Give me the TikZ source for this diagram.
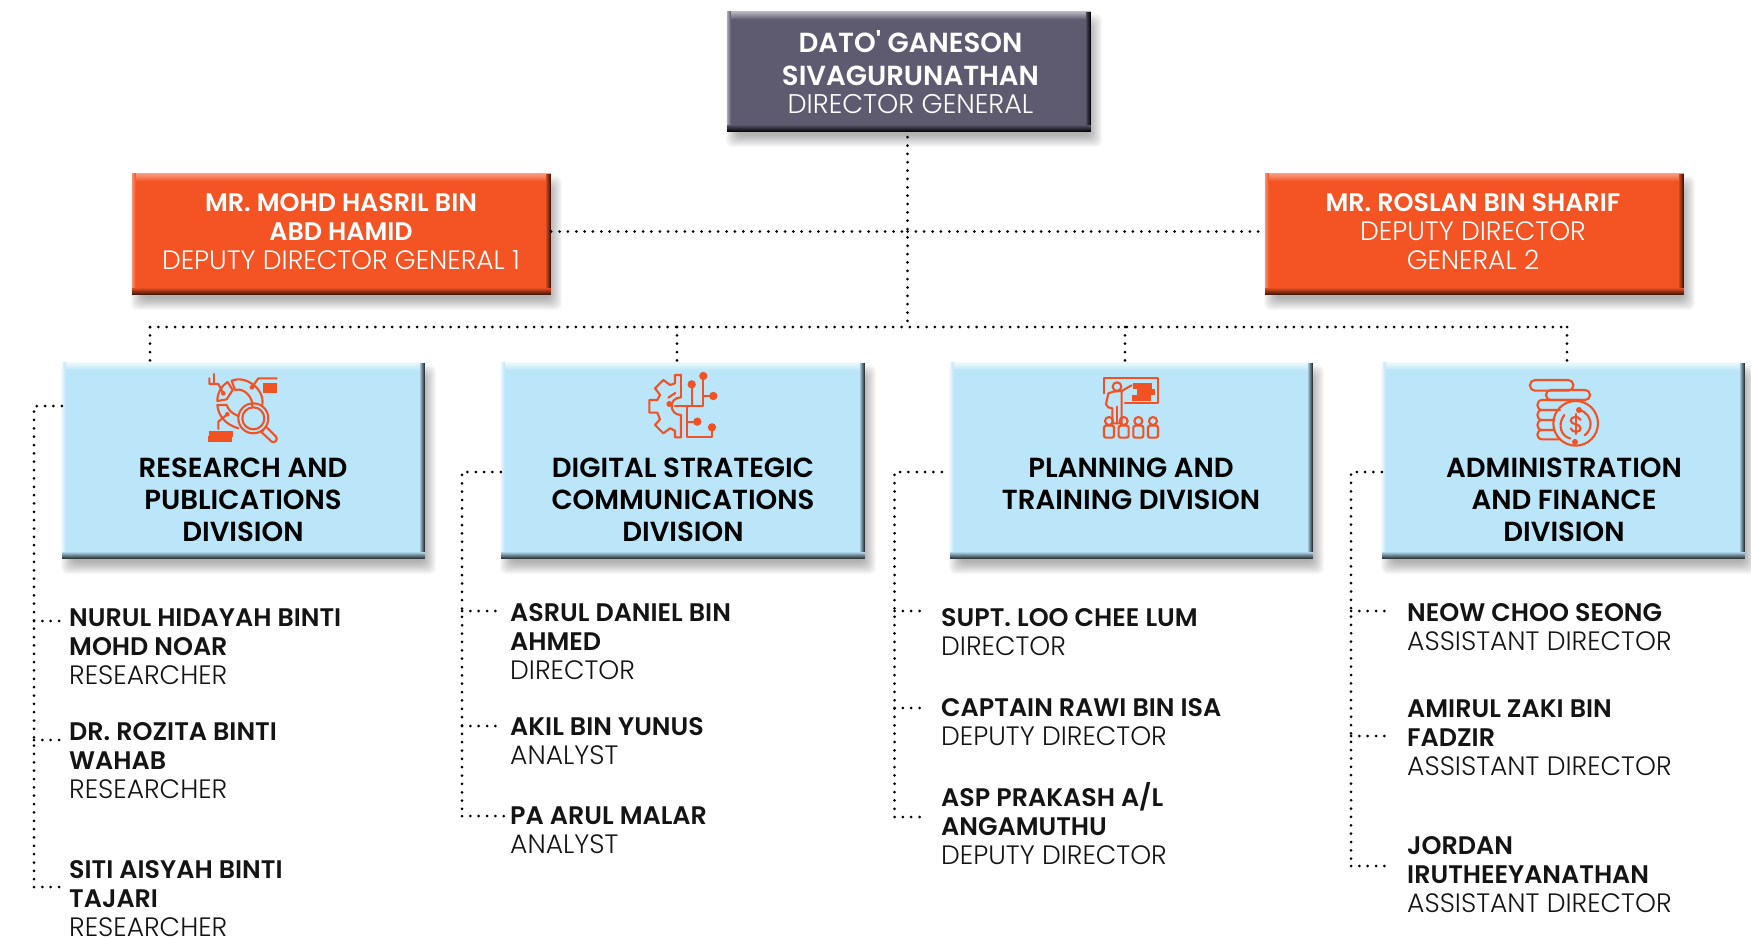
\documentclass[tikz,border=0pt]{standalone}
\usepackage{fontspec}
\setmainfont{Poppins}
\newfontfamily\namef{Poppins SemiBold}
\newfontfamily\rolef{Poppins Light}
\definecolor{ic}{HTML}{F15123}
\definecolor{dgfill}{HTML}{5E5B70}
\definecolor{orfill}{HTML}{F45323}
\definecolor{blfill}{HTML}{BBE5F9}
\newcommand\nm{\namef\fontsize{25.4}{29}\selectfont}
\newcommand\rl{\rolef\fontsize{26.6}{29}\selectfont}
\newcommand\dv{\namef\fontsize{27.6}{32}\selectfont}
\newcommand\dgn{\namef\fontsize{27.6}{32}\selectfont}
\newcommand\dgr{\rolef\fontsize{27}{30}\selectfont}
\tikzset{
 dots/.style={line width=3pt,line cap=round,dash pattern=on 0pt off 8.35pt,black},
 bevel/.style n args={3}{draw=none,fill=#1,inner sep=0pt,path picture={
   \foreach \i in {0,...,8}{\pgfmathtruncatemacro\pc{100-\i*12}
     \fill[#2!\pc!#1] ([yshift={-\i*1pt}]path picture bounding box.north west) rectangle ([yshift=-9pt]path picture bounding box.north east);}
   \foreach \i in {0,...,3}{\pgfmathtruncatemacro\pc{80-\i*22}
     \fill[#2!\pc!#1] ([xshift={\i*1pt}]path picture bounding box.north west) rectangle ([xshift=4pt]path picture bounding box.south west);}
   \foreach \i in {0,...,4}{\pgfmathtruncatemacro\pc{100-\i*20}
     \fill[#3!\pc!#1] ([xshift={-\i*1pt},yshift=-1pt]path picture bounding box.north east) rectangle ([xshift=-5pt]path picture bounding box.south east);}
   \foreach \i in {0,...,6}{\pgfmathtruncatemacro\pc{100-\i*15}
     \fill[#3!\pc!#1] ([yshift={\i*1pt}]path picture bounding box.south west) rectangle ([yshift=7pt]path picture bounding box.south east);}
 }},
 dgbox/.style={bevel={dgfill}{dgfill!40!white}{black!90!dgfill}},
 orbox/.style={bevel={orfill}{orfill!55!white}{black!70!orfill}},
 blbox/.style={bevel={blfill}{white!80!blfill}{black!75!blfill}},
 headtext/.style={align=center,text=white,inner sep=0pt,font=\fontsize{25}{29}\selectfont},
 dghead/.style={align=center,text=white,inner sep=0pt,font=\fontsize{25}{31}\selectfont},
 person/.style={anchor=north west,inner sep=0pt,align=left,text=black!92,font=\fontsize{25}{29}\selectfont},
 divtext/.style={anchor=north,inner sep=0pt,align=center,text=black,font=\fontsize{25}{32}\selectfont},
 lic/.style={draw=ic,line width=2.1pt,line join=round,line cap=round},
 sic/.style={fill=ic},
 icon/.style={x=0.3333pt,y=-0.3333pt},
}
\newcommand\bbox[6]{%
 \foreach \k in {-6,...,6}{\fill[black,opacity=.028,rounded corners=6pt] ({#3+5-\k},{#4+9-\k}) rectangle ({#5+5+\k},{#6+9+\k});}
 \node[#1,minimum width={(#5-#3)*1pt},minimum height={(#6-#4)*1pt}] (#2) at ({(#3+#5)/2},{(#4+#6)/2}) {};}
\begin{document}
\begin{tikzpicture}[x=1pt,y=-1pt]
\useasboundingbox (0,0) rectangle (1751,939);
% boxes
\bbox{dgbox}{dg}{727}{11}{1091}{132}
\node[dghead] (dgt) at (910.5,72) {\dgn DATO' GANESON\\[2pt]\dgn SIVAGURUNATHAN\\[-3pt]\dgr DIRECTOR GENERAL};
\bbox{orbox}{dl}{132}{173}{551}{295}
\node[headtext] (dlt) at (341,231.5) {\nm MR. MOHD HASRIL BIN\\\nm ABD HAMID\\\rl DEPUTY DIRECTOR GENERAL 1};
\bbox{orbox}{dr}{1265}{173}{1684}{295}
\node[headtext] (drt) at (1473,231.5) {\nm MR. ROSLAN BIN SHARIF\\\rl DEPUTY DIRECTOR\\\rl GENERAL 2};
\bbox{blbox}{d1}{62}{362}{425}{559}
\bbox{blbox}{d2}{501}{362}{865}{559}
\bbox{blbox}{d3}{950}{362}{1313}{559}
\bbox{blbox}{d4}{1382}{362}{1745}{559}
\node[divtext] (t1) at (243,458) {\dv RESEARCH AND\\\dv PUBLICATIONS\\\dv DIVISION};
\node[divtext] (t2) at (683,458) {\dv DIGITAL STRATEGIC\\\dv COMMUNICATIONS\\\dv DIVISION};
\node[divtext] (t3) at (1131,458) {\dv PLANNING AND\\\dv TRAINING DIVISION};
\node[divtext] (t4) at (1564,458) {\dv ADMINISTRATION\\\dv AND FINANCE\\\dv DIVISION};
% people
\node[person] (p11) at (69,609) {\nm NURUL HIDAYAH BINTI\\\nm MOHD NOAR\\\rl RESEARCHER};
\node[person] (p12) at (69,722.5) {\nm DR. ROZITA BINTI\\\nm WAHAB\\\rl RESEARCHER};
\node[person] (p13) at (69,860) {\nm SITI AISYAH BINTI\\\nm TAJARI\\\rl RESEARCHER};
\node[person] (p21) at (510,603) {\nm ASRUL DANIEL BIN\\\nm AHMED\\\rl DIRECTOR};
\node[person] (p22) at (510,717) {\nm AKIL BIN YUNUS\\\rl ANALYST};
\node[person] (p23) at (510,807) {\nm PA ARUL MALAR\\\rl ANALYST};
\node[person] (p31) at (941,608) {\nm SUPT. LOO CHEE LUM\\\rl DIRECTOR};
\node[person] (p32) at (941,698) {\nm CAPTAIN RAWI BIN ISA\\\rl DEPUTY DIRECTOR};
\node[person] (p33) at (941,782.5) {\nm ASP PRAKASH A/L\\\nm ANGAMUTHU\\\rl DEPUTY DIRECTOR};
\node[person] (p41) at (1407,603) {\nm NEOW CHOO SEONG\\\rl ASSISTANT DIRECTOR};
\node[person] (p42) at (1407,700) {\nm AMIRUL ZAKI BIN\\\nm FADZIR\\\rl ASSISTANT DIRECTOR};
\node[person] (p43) at (1407,836) {\nm JORDAN\\\nm IRUTHEEYANATHAN\\\rl ASSISTANT DIRECTOR};
% junctions
\coordinate (jm) at (907.5,231.5);
\coordinate (jb) at (907.5,327);
\coordinate (x1) at (150,327); \coordinate (x2) at (677,327);
\coordinate (x3) at (1125,327); \coordinate (x4) at (1567,327);
\draw[dots] (dg.south -| jm) ++(0,5) -- (jb);
\draw[dots] (dl.east |- jm) -- (jm);
\draw[dots] (jm) -- (dr.west |- jm);
\draw[dots] (x1) -- (x4);
\draw[dots] (x1) -- (d1.north -| x1);
\draw[dots] (x2) -- (d2.north -| x2);
\draw[dots] (x3) -- (d3.north -| x3);
\draw[dots] (x4) -- (d4.north -| x4);
% brackets
\coordinate (a1) at (34,406); \coordinate (b11) at (34,621); \coordinate (b12) at (34,740); \coordinate (b13) at (34,887);
\draw[dots] (d1.west |- a1) -- (a1) -- (b13);
\draw[dots,shorten >=3pt] (b11) -- (p11.west |- b11);
\draw[dots,shorten >=3pt] (b12) -- (p12.west |- b12);
\draw[dots,shorten >=3pt] (b13) -- (p13.west |- b13);
\coordinate (a2) at (462,472); \coordinate (b21) at (462,611); \coordinate (b22) at (462,726); \coordinate (b23) at (462,816);
\draw[dots] (d2.west |- a2) -- (a2) -- (b23);
\draw[dots,shorten >=14pt] (b21) -- (p21.west |- b21);
\draw[dots,shorten >=14pt] (b22) -- (p22.west |- b22);
\draw[dots,shorten >=4pt] (b23) -- (p23.west |- b23);
\coordinate (a3) at (894.5,472); \coordinate (b31) at (894.5,611); \coordinate (b32) at (894.5,708); \coordinate (b33) at (894.5,817);
\draw[dots] (d3.west |- a3) ++(-8,0) -- (a3) -- (b33);
\draw[dots,shorten >=14pt] (b31) -- (p31.west |- b31);
\draw[dots,shorten >=14pt] (b32) -- (p32.west |- b32);
\draw[dots,shorten >=14pt] (b33) -- (p33.west |- b33);
\coordinate (a4) at (1351,472); \coordinate (b41) at (1351,611); \coordinate (b42) at (1351,736); \coordinate (b43) at (1351,866);
\draw[dots] (d4.west |- a4) -- (a4) -- (b43);
\draw[dots,shorten >=22pt] (b41) -- (p41.west |- b41);
\draw[dots,shorten >=22pt] (b42) -- (p42.west |- b42);
\draw[dots,shorten >=22pt] (b43) -- (p43.west |- b43);
% icon 1
\begin{scope}[xshift=190pt,yshift=-360pt,icon]
\draw[lic] (125,62) .. controls (165,45) and (225,85) .. (217,135);
\draw[lic] (125,62) -- (135,90) .. controls (160,82) and (190,110) .. (187,140);
\draw[lic] (113,66) -- (128,90) -- (110,118) -- (82,123) .. controls (82,100) and (92,80) .. (113,66);
\draw[lic] (82,135) -- (110,135) .. controls (115,150) and (125,160) .. (145,168);
\draw[lic] (82,135) .. controls (85,170) and (110,195) .. (145,205);
\draw[lic] (190,175) circle (45);
\draw[lic] (190,175) circle (33);
\draw[lic] (222,207) -- (215,217) -- (245,245) .. controls (255,250) and (265,240) .. (258,230) -- (230,202);
\fill[sic] (218,70) rectangle (262,99);
\draw[lic] (186,82) -- (205,55) -- (260,55);
\fill[sic] (186,82) circle (7);
\fill[sic] (58,213) rectangle (130,231);
\fill[sic] (54,228) rectangle (126,246);
\draw[lic] (112,163) -- (85,185) -- (85,207);
\fill[sic] (112,163) circle (7);
\draw[lic] (100,100) -- (85,72) -- (58,72) -- (58,55);
\draw[lic] (72,72) -- (72,42);
\fill[sic] (100,100) circle (7);
\end{scope}
% icon 2
\begin{scope}[xshift=620pt,yshift=-360pt,icon]
\draw[lic] (183,45) -- (165,45) -- (165,70) -- (150,75) -- (130,60) -- (105,85) -- (120,105) -- (112,120) -- (88,120) -- (88,158) -- (112,158) -- (120,178) -- (105,195) -- (130,220) -- (150,205) -- (165,212) -- (165,232) -- (183,232) -- (183,165);
\draw[lic] (183,112) -- (183,45);
\draw[lic] (183,112) .. controls (165,112) and (155,125) .. (155,138) .. controls (155,152) and (165,165) .. (183,165);
\draw[lic] (145,113) -- (166,99);
\fill[sic] (148,132) circle (9);
\draw[lic] (165,137) -- (250,137) -- (250,48);
\draw[lic] (215,137) -- (215,75);
\draw[lic] (250,108) -- (280,108);
\draw[lic] (202,137) -- (202,232) -- (276,232) -- (276,202);
\draw[lic] (202,185) -- (232,185);
\foreach \p in {(215,73),(250,48),(280,108),(232,185),(276,202)} \fill[sic] \p circle (12.5);
\end{scope}
% icon 3
\begin{scope}[xshift=1080pt,yshift=-360pt,icon]
\draw[lic] (73,100) -- (73,55) -- (233,55) -- (233,130) -- (135,130);
\fill[sic] (160,70) rectangle (215,88);
\fill[sic] (170,88) rectangle (225,105);
\fill[sic] (156,105) rectangle (213,122);
\draw[lic] (111,80) circle (13);
\draw[lic] (155,76) -- (125,93) -- (125,190) -- (97,190) -- (97,145) -- (85,142) -- (78,133) -- (85,100) -- (100,95) -- (125,93);
\draw[lic] (111,140) -- (111,190);
\foreach \c in {87,131,175,219}{
 \draw[lic] (\c,183) circle (12);
 \draw[lic,rounded corners=2pt] (\c-15,233) -- (\c-15,197) -- (\c+15,197) -- (\c+15,233) -- cycle;}
\end{scope}
% icon 4
\begin{scope}[xshift=1510pt,yshift=-360pt,icon]
\draw[lic,rounded corners=5pt] (60,60) rectangle (190,92);
\draw[lic,rounded corners=4.8pt] (108,90) rectangle (240,120);
\draw[lic] (215,120) -- (97,120) .. controls (77,120) and (77,150) .. (97,150) -- (150,150);
\draw[lic] (97,150) .. controls (77,150) and (77,180) .. (97,180) -- (133,180);
\draw[lic] (97,180) .. controls (77,180) and (77,210) .. (97,210) -- (133,210);
\draw[lic] (97,210) .. controls (77,210) and (77,238) .. (97,238) -- (148,238);
\draw[lic] (197,190) circle (67);
\draw[lic] (207,150) arc (-80:55:42);
\draw[lic] (163,165) .. controls (140,195) and (155,230) .. (180,235);
\fill[sic] (207,150) circle (9);
\fill[sic] (195,246) circle (9);
\draw[lic] (212,180) .. controls (205,165) and (182,170) .. (182,182) .. controls (182,195) and (212,190) .. (212,205) .. controls (212,218) and (188,220) .. (182,205);
\draw[lic] (197,162) -- (197,222);
\end{scope}
\end{tikzpicture}
\end{document}
